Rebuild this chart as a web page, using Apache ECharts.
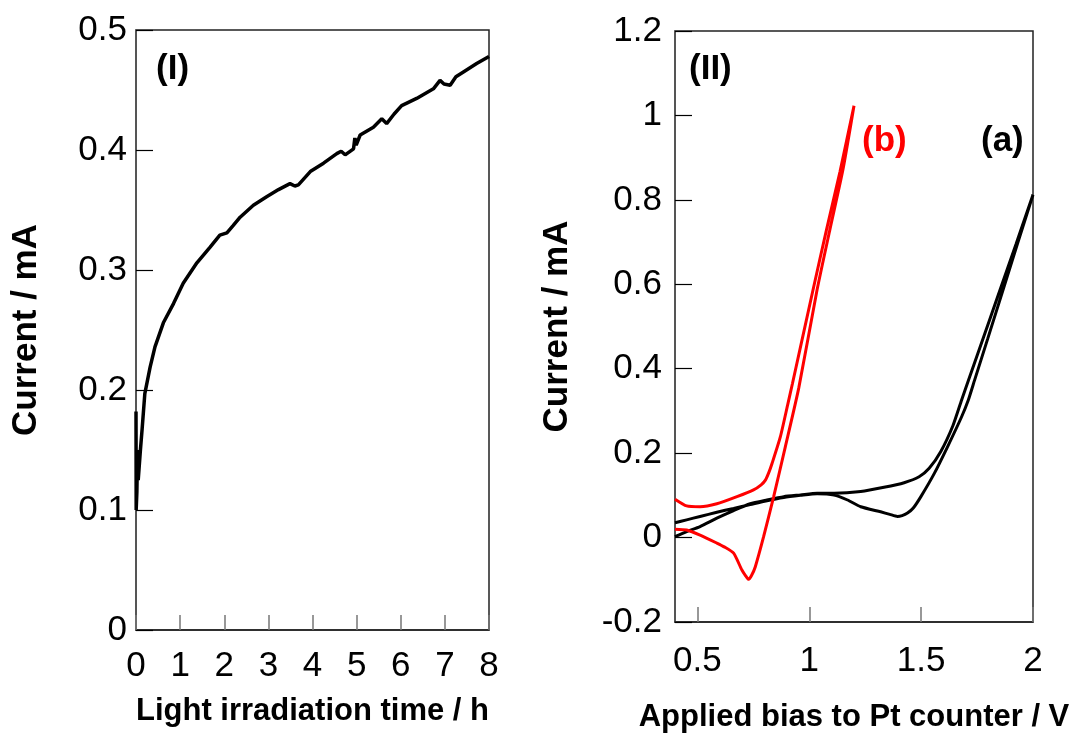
<!DOCTYPE html>
<html>
<head>
<meta charset="utf-8">
<script src="https://cdn.jsdelivr.net/npm/echarts@6/dist/echarts.min.js"></script>
<style>
  html, body { margin: 0; background: #fff; }
  #chart { width: 1078px; height: 733px; }
</style>
</head>
<body>
<div id="chart"></div>
<script>
// (I) photocurrent vs irradiation time
const timeH = [0, 0.004, 0.02, 0.035, 0.05, 0.07, 0.1, 0.14, 0.2, 0.32, 0.43, 0.62, 0.85, 1.07, 1.38, 1.68, 1.9, 2.06, 2.2, 2.36, 2.66, 2.96, 3.23, 3.49, 3.6, 3.68, 3.95, 4.25, 4.55, 4.65, 4.74, 4.93, 4.96, 4.99, 5.08, 5.38, 5.57, 5.68, 5.85, 6.02, 6.36, 6.74, 6.89, 6.98, 7.12, 7.25, 7.42, 7.72, 8.0];
const currentI = [0.182, 0.100, 0.115, 0.150, 0.125, 0.135, 0.150, 0.168, 0.197, 0.219, 0.236, 0.256, 0.272, 0.289, 0.306, 0.319, 0.329, 0.331, 0.337, 0.344, 0.354, 0.361, 0.367, 0.372, 0.370, 0.371, 0.382, 0.389, 0.397, 0.399, 0.396, 0.401, 0.410, 0.404, 0.4125, 0.419, 0.426, 0.422, 0.430, 0.437, 0.443, 0.451, 0.458, 0.455, 0.454, 0.461, 0.465, 0.472, 0.478];

// (II) current vs applied bias, (a) black and (b) red
const biasA = [0.4, 0.452, 0.512, 0.587, 0.662, 0.736, 0.811, 0.886, 0.961, 1.035, 1.111, 1.23, 1.334, 1.424, 1.491, 1.536, 1.588, 1.642, 1.681, 1.712, 1.766, 1.845, 1.924, 2.0,
               1.933, 1.868, 1.797, 1.739, 1.711, 1.68, 1.618, 1.559, 1.499, 1.465, 1.439, 1.415, 1.394, 1.36, 1.319, 1.23, 1.171, 1.111, 1.035, 0.961, 0.886, 0.80, 0.736, 0.662, 0.587, 0.512, 0.452, 0.4];
const currentA = [0.002, 0.014, 0.026, 0.046, 0.064, 0.080, 0.089, 0.097, 0.101, 0.105, 0.105, 0.109, 0.119, 0.130, 0.144, 0.164, 0.204, 0.265, 0.326, 0.373, 0.455, 0.575, 0.695, 0.812,
                  0.700, 0.590, 0.470, 0.373, 0.326, 0.285, 0.215, 0.152, 0.097, 0.070, 0.058, 0.052, 0.050, 0.055, 0.061, 0.073, 0.089, 0.101, 0.104, 0.100, 0.095, 0.086, 0.078, 0.069, 0.060, 0.050, 0.042, 0.035];

const biasB = [0.4, 0.452, 0.512, 0.587, 0.677, 0.751, 0.785, 0.804, 0.82, 0.834, 0.871, 0.905, 0.925, 1.017, 1.077, 1.137, 1.2,
               1.15, 1.092, 1.035, 0.953, 0.893, 0.841, 0.796, 0.759, 0.742, 0.729, 0.715, 0.699, 0.662, 0.62, 0.587, 0.512, 0.452, 0.4];
const currentB = [0.091, 0.075, 0.073, 0.080, 0.097, 0.113, 0.125, 0.136, 0.155, 0.176, 0.239, 0.318, 0.365, 0.587, 0.729, 0.866, 1.023,
                  0.870, 0.729, 0.587, 0.354, 0.215, 0.097, 0.002, -0.069, -0.090, -0.099, -0.090, -0.077, -0.037, -0.022, -0.013, 0.006, 0.018, 0.020];

const xTicksII = [0.5, 1, 1.5, 2];

const FONT = 'Liberation Sans, Arial, sans-serif';

function pairs(xs, ys) {
  return xs.map((x, i) => [x, ys[i]]);
}

// shared look of the axes
function xAxisBase(name, gap, margin) {
  return {
    type: 'value',
    name: name,
    nameLocation: 'middle',
    nameGap: gap,
    nameTextStyle: { fontFamily: FONT, fontWeight: 'bold', fontSize: 31, color: '#000' },
    axisLine: { onZero: false, lineStyle: { color: '#222', width: 1.5 } },
    axisTick: { inside: true, length: 15, lineStyle: { color: '#777', width: 1.5 } },
    axisLabel: { fontFamily: FONT, fontSize: 35, color: '#000', margin: margin },
    splitLine: { show: false }
  };
}

function yAxisBase(gap, margin) {
  return {
    type: 'value',
    name: 'Current / mA',
    nameLocation: 'middle',
    nameRotate: 90,
    nameGap: gap,
    nameTextStyle: { fontFamily: FONT, fontWeight: 'bold', fontSize: 35, color: '#000' },
    axisLine: { onZero: false, lineStyle: { color: '#555', width: 1.5 } },
    axisTick: { inside: true, length: 17, lineStyle: { color: '#000', width: 1.2 } },
    axisLabel: { fontFamily: FONT, fontSize: 35, color: '#000', margin: margin },
    splitLine: { show: false }
  };
}

const chart = echarts.init(document.getElementById('chart'));

const xI = Object.assign(xAxisBase('Light irradiation time / h', 66, 19), { gridIndex: 0, min: 0, max: 8, interval: 1 });
const yI = Object.assign(yAxisBase(92, 9), { gridIndex: 0, min: 0, max: 0.5, interval: 0.1 });

const xII = xAxisBase('Applied bias to Pt counter / V', 80, 22);
xII.gridIndex = 1;
xII.min = 0.4;
xII.max = 2;
xII.axisTick.customValues = xTicksII;
xII.axisLabel.customValues = xTicksII;
const yII = Object.assign(yAxisBase(100, 13), { gridIndex: 1, min: -0.2, max: 1.2, interval: 0.2 });

const option = {
  backgroundColor: '#fff',
  animation: false,
  grid: [
    { left: 136, top: 30, width: 353, height: 600, show: true, borderColor: '#222', borderWidth: 1.5, outerBoundsMode: 'none' },
    { left: 675, top: 31, width: 358, height: 591, show: true, borderColor: '#222', borderWidth: 1.5, outerBoundsMode: 'none' }
  ],
  xAxis: [xI, xII],
  yAxis: [yI, yII],
  series: [
    {
      type: 'line', xAxisIndex: 0, yAxisIndex: 0,
      data: pairs(timeH, currentI),
      showSymbol: false,
      lineStyle: { color: '#000', width: 3.5 }
    },
    {
      type: 'line', xAxisIndex: 1, yAxisIndex: 1,
      data: pairs(biasA, currentA),
      showSymbol: false,
      smooth: 0.2,
      lineStyle: { color: '#000', width: 3 }
    },
    {
      type: 'line', xAxisIndex: 1, yAxisIndex: 1,
      data: pairs(biasB, currentB),
      showSymbol: false,
      smooth: 0.2,
      lineStyle: { color: '#ff0000', width: 3 }
    }
  ],
  graphic: [
    { type: 'text', left: 156, top: 52, style: { text: '(I)', fill: '#000', font: 'bold 35px ' + FONT } },
    { type: 'text', left: 689, top: 52, style: { text: '(II)', fill: '#000', font: 'bold 35px ' + FONT } },
    { type: 'text', left: 862, top: 124, style: { text: '(b)', fill: '#ff0000', font: 'bold 35px ' + FONT } },
    { type: 'text', left: 981, top: 124, style: { text: '(a)', fill: '#000', font: 'bold 35px ' + FONT } }
  ]
};

chart.setOption(option);
</script>
</body>
</html>
